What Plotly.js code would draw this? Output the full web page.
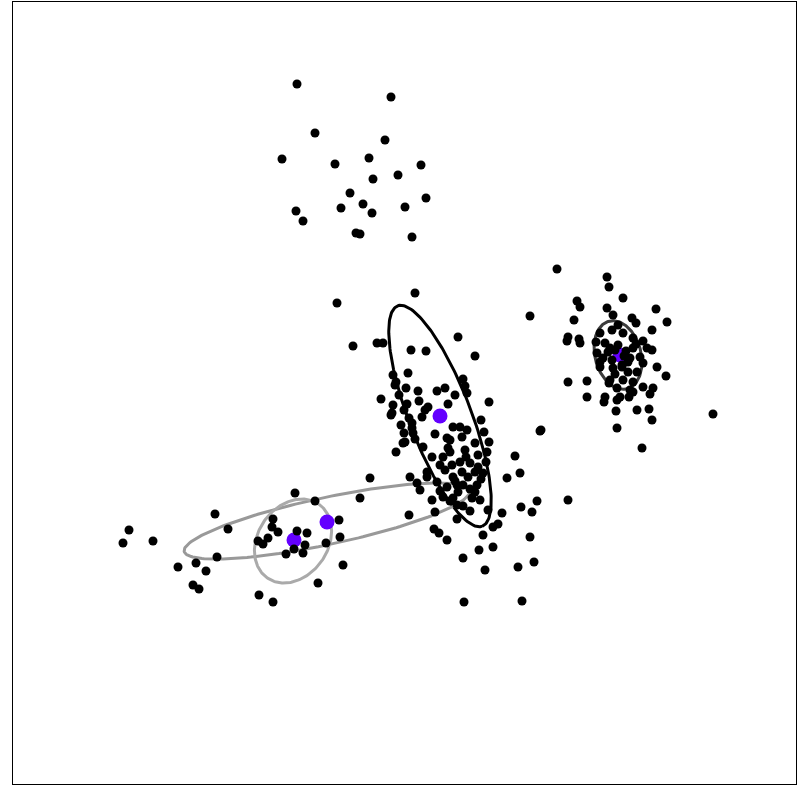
<!DOCTYPE html>
<html>
<head>
<meta charset="utf-8">
<script src="https://cdn.plot.ly/plotly-3.0.1.min.js"></script>
<style>html,body{margin:0;padding:0;background:#fff;}#chart{width:802px;height:786px;}</style>
</head>
<body>
<div id="chart"></div>
<script>
// Cluster points (pixel-like data units, y downward)
var topX = [297,391,315,385,282,335,369,421,373,398,350,426,296,303,341,363,372,405,356,360,412];
var topY = [84,97,133,140,159,164,158,165,179,175,193,198,211,221,208,204,213,207,233,234,237];

var rightX = [557,607,609,623,577,580,607,656,667,574,530,613,632,636,652,568,567,579,580,596,643,652,597,600,657,666,568,587,609,653,650,587,604,617,629,633,616,637,649,652,617,541,642,713,
  600,605,612,618,623,633,647,610,630,640,643,603,600,613,622,628,637,610,623,633,643,617,630,620,605,
  615,626,612,628,618,622,608,633,615,624,636];
var rightY = [269,277,287,298,301,307,308,309,322,320,316,315,318,323,330,337,341,339,343,342,341,350,353,362,367,376,382,381,383,388,394,397,402,400,397,392,411,410,409,420,428,430,448,414,
  333,343,330,325,333,338,348,348,358,357,363,358,367,368,367,372,372,380,380,382,387,388,390,397,397,
  350,351,360,362,345,365,352,348,374,356,344];

var midX = [415,337,353,377,383,411,426,458,475,408,396,406,418,437,445,455,463,465,467,489,381,393,407,419,428,448,391,401,409,422,404,412,435,453,460,467,481,484,403,415,447,462,475,489,396,423,448,465,487,
  393,395,392,425,412,413,450,
  405,432,443,450,478,515,440,452,460,470,478,410,427,437,453,462,468,475,507,520,417,420,447,457,458,477,432,443,453,472,480,537,435,409,457,457,488,502,521,532,434,439,447,483,493,498,530,493,479,463,485,518,534,464,522,
  427,483,463,475,568,
  445,466,455,470,481,440,463,486,450,470,399,404];
var midY = [293,303,346,343,343,350,351,337,356,373,382,388,391,391,388,395,379,386,393,402,399,405,404,401,407,404,415,425,418,417,433,428,434,427,427,430,420,432,443,439,438,437,443,442,452,447,448,450,452,
  375,385,413,410,423,433,440,
  442,457,457,452,455,456,465,465,462,463,467,477,477,482,477,472,477,472,478,473,483,490,487,485,492,485,500,497,498,498,500,501,512,515,505,519,510,513,507,512,529,533,540,535,527,524,537,547,550,558,570,567,562,602,601,
  472,473,485,492,500,
  470,457,481,489,479,491,506,462,501,511,395,410];

var leftX = [295,315,215,273,339,129,228,272,278,123,153,258,263,268,297,307,340,305,294,286,303,326,217,178,196,206,343,193,199,318,259,273,360,370,540];
var leftY = [493,501,514,519,520,530,529,527,532,543,541,541,544,538,531,533,537,545,549,554,553,543,557,567,563,571,565,585,589,583,595,602,498,478,431];

// Component centres
var centreX = [440, 327, 294, 620];
var centreY = [416, 522, 540, 355];

// Ellipse parameters: centre, semi-axes, angle of major axis (deg, counterclockwise on screen)
var ellCx = [440, 327, 293, 618];
var ellCy = [416, 521, 541, 355];
var ellA = [118, 146, 45, 35];
var ellB = [31, 23.5, 35, 23];
var ellAngle = [-69, 12, 55, -75];
var ellColor = ['#000000', '#999999', '#aaaaaa', '#3c3c3c'];

var traces = [];
for (var k = 0; k < ellCx.length; k++) {
  var ex = [], ey = [];
  var th = ellAngle[k] * Math.PI / 180;
  for (var i = 0; i <= 200; i++) {
    var t = 2 * Math.PI * i / 200;
    var u = ellA[k] * Math.cos(t), v = ellB[k] * Math.sin(t);
    ex.push(ellCx[k] + u * Math.cos(th) - v * Math.sin(th));
    ey.push(ellCy[k] - (u * Math.sin(th) + v * Math.cos(th)));
  }
  traces.push({x: ex, y: ey, type: 'scatter', mode: 'lines', line: {color: ellColor[k], width: 3}, hoverinfo: 'skip', showlegend: false});
}
traces.push({x: centreX, y: centreY, type: 'scatter', mode: 'markers', marker: {color: '#6400ff', size: 15}, showlegend: false});
var allX = topX.concat(rightX, midX, leftX);
var allY = topY.concat(rightY, midY, leftY);
traces.push({x: allX, y: allY, type: 'scatter', mode: 'markers', marker: {color: '#000000', size: 9}, showlegend: false});

var axisCommon = {showgrid: false, zeroline: false, showticklabels: false, ticks: '', showline: true, mirror: true, linecolor: '#000', linewidth: 1};
var layout = {
  width: 802, height: 786,
  margin: {l: 13, r: 6, t: 2, b: 2, pad: 0},
  paper_bgcolor: '#fff', plot_bgcolor: '#fff',
  xaxis: Object.assign({range: [13, 796]}, axisCommon),
  yaxis: Object.assign({range: [784, 2]}, axisCommon),
  showlegend: false
};
Plotly.newPlot('chart', traces, layout, {staticPlot: true, displayModeBar: false});
</script>
</body>
</html>
